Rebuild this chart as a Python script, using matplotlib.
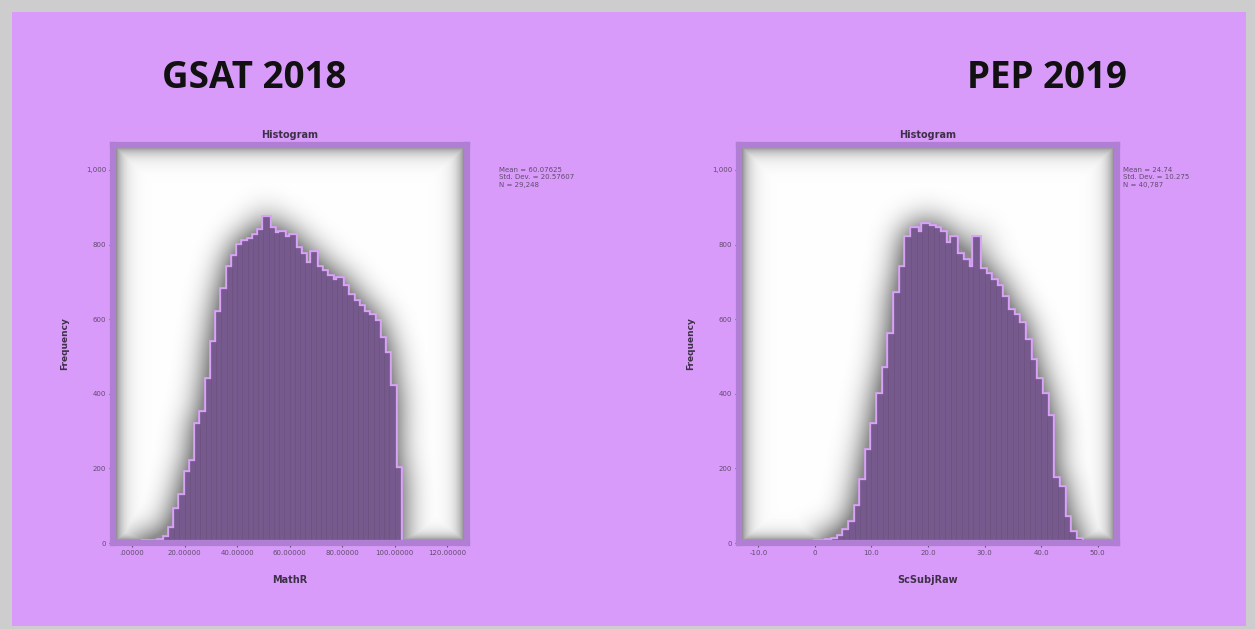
import numpy as np
import matplotlib
matplotlib.use("Agg")
import matplotlib.pyplot as plt
from matplotlib.patches import Rectangle

# ---------------- data ----------------
gsat_edges = list(range(0, 104, 2))
gsat_counts = [3, 4, 5, 6, 6, 8, 15, 40, 90, 130, 190, 220, 320, 350, 440, 540,
               620, 680, 740, 770, 800, 810, 815, 825, 840, 875, 845, 830, 835,
               820, 825, 790, 775, 750, 780, 740, 730, 715, 705, 710, 690, 665,
               650, 635, 620, 610, 595, 550, 510, 420, 200]
pep_edges = list(range(0, 48, 1))
pep_counts = [5, 6, 8, 12, 20, 35, 55, 100, 170, 250, 320, 400, 470, 560, 670,
              740, 820, 845, 835, 855, 850, 845, 835, 805, 820, 775, 760, 740,
              820, 735, 720, 705, 690, 660, 625, 610, 590, 545, 490, 440, 400,
              340, 175, 150, 70, 30, 10]

gsat_xticks = [0, 20, 40, 60, 80, 100, 120]
gsat_xlabels = [".00000", "20.00000", "40.00000", "60.00000", "80.00000",
                "100.00000", "120.00000"]
pep_xticks = [-10, 0, 10, 20, 30, 40, 50]
pep_xlabels = ["-10.0", "0", "10.0", "20.0", "30.0", "40.0", "50.0"]
yticks = [0, 200, 400, 600, 800, 1000]
ylabels = ["0", "200", "400", "600", "800", "1,000"]

panel_titles = ["GSAT 2018", "PEP 2019"]
x_names = ["MathR", "ScSubjRaw"]
stats = ["Mean = 60.07625\nStd. Dev. = 20.57607\nN = 29,248",
         "Mean = 24.74\nStd. Dev. = 10.275\nN = 40,787"]

# ---------------- style ----------------
W, H = 1255, 629
BG = "#D99BFA"
FRAME = "#B07ED2"
BAR = "#765A8D"
BAR_EDGE = "#6A4E80"
OUTLINE = "#D8A2F7"
TXT = "#5E4C6C"
YTOP = 1067

fig = plt.figure(figsize=(W / 100, H / 100), dpi=100)
fig.patch.set_facecolor("#CDCDCD")
bgrect = Rectangle((12 / W, 3 / H), 1234 / W, 614 / H,
                   transform=fig.transFigure, facecolor=BG,
                   edgecolor="none", zorder=-10)
fig.add_artist(bgrect)


def px(x0, y0, x1, y1):
    return [x0 / W, (H - y1) / H, (x1 - x0) / W, (y1 - y0) / H]


def blur1d(a, sigma, axis, mode):
    r = int(3 * sigma)
    k = np.exp(-0.5 * (np.arange(-r, r + 1) / sigma) ** 2)
    k /= k.sum()
    pad = [(0, 0), (0, 0)]
    pad[axis] = (r, r)
    ap = np.pad(a, pad, mode=mode)
    return np.apply_along_axis(lambda v: np.convolve(v, k, mode="valid"),
                               axis, ap)


def background(ax, wpx, hpx, edges, counts, xlim):
    nx, ny = int(wpx), int(hpx)
    xs = np.linspace(xlim[0], xlim[1], nx)
    ys = np.linspace(0, YTOP, ny)
    idx = np.searchsorted(edges, xs, side="right") - 1
    valid = (idx >= 0) & (idx < len(counts))
    hx = np.where(valid, counts[np.clip(idx, 0, len(counts) - 1)], 0.0)
    mask = ((ys[:, None] <= hx[None, :]) & (hx[None, :] > 0)).astype(float)
    s = blur1d(mask, 14.0, 0, "edge")
    s = blur1d(s, 14.0, 1, "constant")
    shade = 0.45 * np.clip(2.2 * s, 0, 1) ** 0.8
    # vignette
    X = np.arange(nx)[None, :]
    Y = np.arange(ny)[:, None]
    dx = np.minimum(X, nx - 1 - X)
    d = np.minimum(np.minimum(dx, ny - 1 - Y), Y * 1.2)
    g = 1 - 0.42 * np.exp(-np.maximum(d - 3, 0) / 7.5)
    g = np.minimum(g, 1 - shade)
    img = np.dstack([g, g, g])
    ax.imshow(img, extent=(xlim[0], xlim[1], 0, YTOP), origin="lower",
              aspect="auto", zorder=0, interpolation="bilinear")


def panel(rect, wpx, hpx, edges, counts, xlim, xticks, xlabels, xname, stat,
          stat_x):
    ax = fig.add_axes(rect)
    ax.set_facecolor("white")
    edges = np.asarray(edges, float)
    counts = np.asarray(counts, float)
    background(ax, wpx, hpx, edges, counts, xlim)
    ax.stairs(counts, edges, baseline=0, fill=False, color=OUTLINE, lw=3.4,
              zorder=2)
    ax.bar(edges[:-1], counts, width=np.diff(edges), align="edge",
           color=BAR, edgecolor=BAR_EDGE, linewidth=0.4, zorder=3)
    ax.set_xlim(*xlim)
    ax.set_ylim(0, YTOP)
    ax.set_xticks(xticks)
    ax.set_xticklabels(xlabels)
    ax.set_yticks(yticks)
    ax.set_yticklabels(ylabels)
    ax.tick_params(axis="both", labelsize=5, colors=TXT, length=3, width=0.8,
                   pad=2, direction="out")
    for s in ax.spines.values():
        s.set_color(FRAME)
        s.set_linewidth(4.5)
        s.set_zorder(5)
    ax.set_title("Histogram", fontsize=7, color="#3E3048", pad=5,
                 fontweight="bold")
    ax.set_xlabel(xname, fontsize=7, color="#3E3048", labelpad=14,
                  fontweight="bold")
    ax.set_ylabel("Frequency", fontsize=6.5, color="#3E3048", labelpad=12,
                  fontweight="bold")
    ax.text(stat_x, 0.945, stat, transform=ax.transAxes, fontsize=5,
            color=TXT, va="top", ha="left", linespacing=1.3)
    return ax


panel(px(113, 145, 467, 543), 354, 398, gsat_edges, gsat_counts,
      (-7.24, 127.6), gsat_xticks, gsat_xlabels, x_names[0], stats[0], 1.09)
panel(px(739, 145, 1117, 543), 378, 398, pep_edges, pep_counts,
      (-13.45, 53.45), pep_xticks, pep_xlabels, x_names[1], stats[1], 1.015)

fig.text(162 / W, (H - 88) / H, panel_titles[0], fontsize=26.5,
         fontweight="bold", family="Open Sans", color="#111111",
         ha="left", va="baseline")
fig.text(967 / W, (H - 88) / H, panel_titles[1], fontsize=26.5,
         fontweight="bold", family="Open Sans", color="#111111",
         ha="left", va="baseline")

fig.savefig("out.png", dpi=100, facecolor=fig.get_facecolor())
